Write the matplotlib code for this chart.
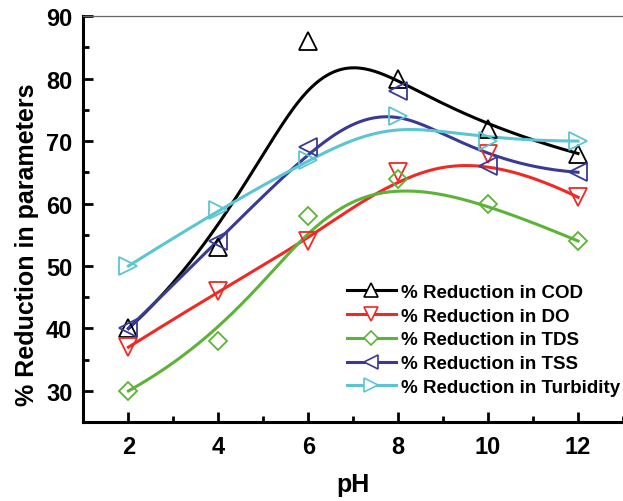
import numpy as np
import matplotlib
matplotlib.use("Agg")
import matplotlib.pyplot as plt
from matplotlib.lines import Line2D
from matplotlib.ticker import MultipleLocator

plt.rcParams['font.family'] = ['Liberation Sans', 'DejaVu Sans']
plt.rcParams['font.weight'] = 'bold'

ph = [2, 4, 6, 8, 10, 12]
cod = [40, 53, 86, 80, 72, 68]
do = [37, 46, 54, 65, 68, 61]
tds = [30, 38, 58, 64, 60, 54]
tss = [40, 54, 69, 78, 66, 65]
turb = [50, 59, 67, 74, 70, 70]

labels = ["% Reduction in COD", "% Reduction in DO", "% Reduction in TDS",
          "% Reduction in TSS", "% Reduction in Turbidity"]
series = [cod, do, tds, tss, turb]
colors = ["#000000", "#ee2a24", "#5db338", "#3a3a96", "#5cc5d2"]
markers = ["^", "v", "D", "<", ">"]
msizes = [12.5, 12.5, 9.5, 12.5, 12.5]


def bspline(x, y, k=3, n=400):
    x = np.asarray(x, float)
    y = np.asarray(y, float)
    m = len(x)
    knots = np.concatenate([np.zeros(k), np.linspace(0, 1, m - k + 1), np.ones(k)])
    t = np.linspace(0, 1, n)
    t[-1] -= 1e-10
    B = np.zeros((n, len(knots) - 1))
    for i in range(len(knots) - 1):
        B[:, i] = (t >= knots[i]) & (t < knots[i + 1])
    for d in range(1, k + 1):
        Bn = np.zeros((n, len(knots) - 1 - d))
        for i in range(len(knots) - 1 - d):
            a = knots[i + d] - knots[i]
            b = knots[i + d + 1] - knots[i + 1]
            term = np.zeros(n)
            if a > 0:
                term += (t - knots[i]) / a * B[:, i]
            if b > 0:
                term += (knots[i + d + 1] - t) / b * B[:, i + 1]
            Bn[:, i] = term
        B = Bn
    return B @ x, B @ y


fig = plt.figure(figsize=(6.23, 5.02), dpi=100)
ax = fig.add_axes([0.134, 0.157, 0.866, 0.809])

handles = []
for ys, c, m, ms, lab in zip(series, colors, markers, msizes, labels):
    sx, sy = bspline(ph, ys)
    ax.plot(sx, sy, color=c, lw=2.2, zorder=2)
    ax.plot(ph, ys, linestyle='none', marker=m, ms=ms, mfc='none', mec=c, mew=1.3, zorder=3)
    handles.append(Line2D([], [], color=c, lw=2.2, marker=m, ms=ms * 0.75, mfc='white', mec=c, mew=1.2))

ax.set_xlim(1, 13)
ax.set_ylim(25, 90)
ax.xaxis.set_major_locator(MultipleLocator(2))
ax.xaxis.set_minor_locator(MultipleLocator(1))
ax.yaxis.set_major_locator(MultipleLocator(10))
ax.yaxis.set_minor_locator(MultipleLocator(5))
ax.tick_params(which='both', direction='in', labelsize=17, width=2)
ax.tick_params(which='major', length=7)
ax.tick_params(which='minor', length=4.5)
ax.tick_params(axis='x', which='both', top=False, pad=9)
ax.tick_params(axis='y', which='both', right=False, pad=8)
for lab in ax.get_xticklabels() + ax.get_yticklabels():
    lab.set_fontweight('bold')

ax.spines['left'].set_linewidth(2.2)
ax.spines['bottom'].set_linewidth(2.2)
ax.spines['right'].set_visible(False)
ax.spines['top'].set_linewidth(0.9)
ax.spines['top'].set_color('#666666')

ax.set_xlabel('pH', fontsize=18, fontweight='bold', labelpad=10)
ax.set_ylabel('% Reduction in parameters', fontsize=18, fontweight='bold')
ax.yaxis.label.set_va('center')
ax.yaxis.set_label_coords(-0.105, 0.44)

leg = ax.legend(handles, labels, loc='lower right', bbox_to_anchor=(0.995, 0.065),
                frameon=False, fontsize=13.5, handlelength=2.6, handletextpad=0.3,
                labelspacing=0.35, borderpad=0, borderaxespad=0)
for t in leg.get_texts():
    t.set_fontweight('bold')

fig.savefig('out.png', dpi=100)
